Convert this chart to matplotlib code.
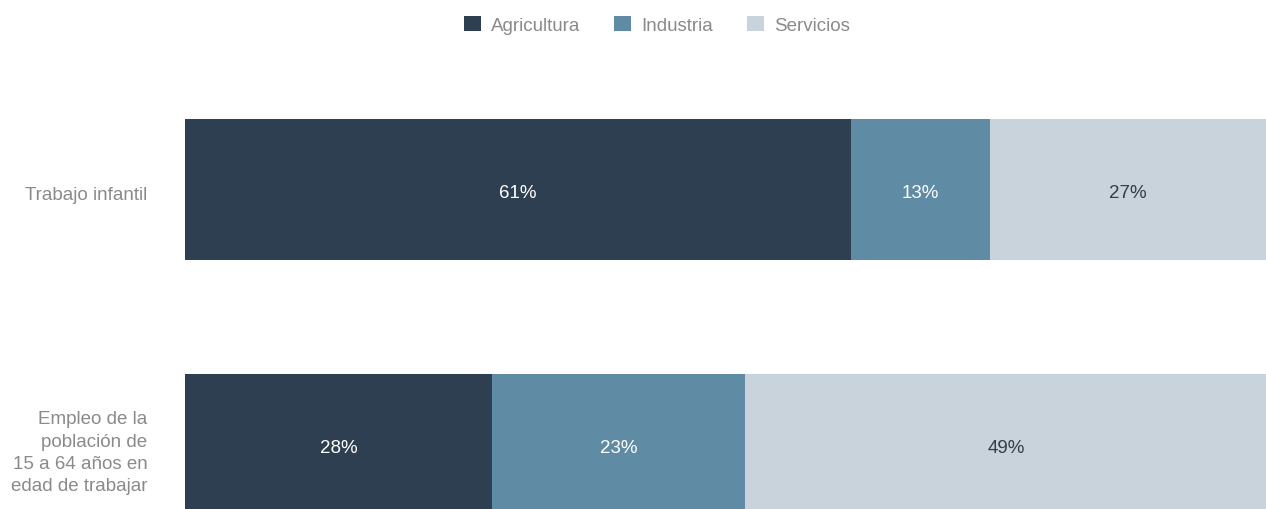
import matplotlib.pyplot as plt
import matplotlib.transforms as mtransforms
import numpy as np

# Datos (porcentajes)
categorias = ['Trabajo infantil',
              'Empleo de la\npoblación de\n15 a 64 años en\nedad de trabajar']
sectores = ['Agricultura', 'Industria', 'Servicios']
agricultura = [61.6, 28.4]
industria = [12.9, 23.4]
servicios = [25.5, 48.3]
etiquetas = [['61%', '13%', '27%'], ['28%', '23%', '49%']]

colores = ['#2e3f52', '#5f8ba5', '#c8d3dc']
color_texto = ['white', 'white', '#333d48']
gris = '#8a8a8a'

plt.rcParams['font.family'] = ['Liberation Sans', 'DejaVu Sans']

W, H = 1266, 510
fig = plt.figure(figsize=(W / 100, H / 100), dpi=100)
ax = fig.add_axes([185 / W, 0, 1 - 185 / W, 450 / H])

y = np.arange(len(categorias))
series = [agricultura, industria, servicios]
left = np.zeros(len(categorias))
for i, (nombre, vals) in enumerate(zip(sectores, series)):
    vals = np.array(vals)
    ax.barh(y, vals, left=left, height=0.553, color=colores[i], label=nombre)
    for j in range(len(categorias)):
        ax.text(left[j] + vals[j] / 2, y[j] + 0.012, etiquetas[j][i], ha='center', va='center',
                color=color_texto[i], fontsize=13.5)
    left += vals

ax.set_xlim(0, 100)
ax.set_ylim(1.2529, -0.5118)
ax.set_yticks(y)
ax.set_yticklabels(categorias, fontsize=13.5, color=gris, linespacing=1.4)
ax.tick_params(axis='y', length=0, pad=27)
desplaza = mtransforms.ScaledTranslation(0, -3 / 100, fig.dpi_scale_trans)
for lbl in ax.get_yticklabels():
    lbl.set_transform(lbl.get_transform() + desplaza)
ax.set_xticks([])
for s in ax.spines.values():
    s.set_visible(False)

fig.legend(loc='upper center', bbox_to_anchor=(0.519, 1.0), ncol=3, frameon=False,
           fontsize=13.5, labelcolor=gris, handlelength=0.9, handleheight=0.9,
           handletextpad=0.55, columnspacing=1.8, borderaxespad=0.5)

fig.savefig('out.png', dpi=100)
